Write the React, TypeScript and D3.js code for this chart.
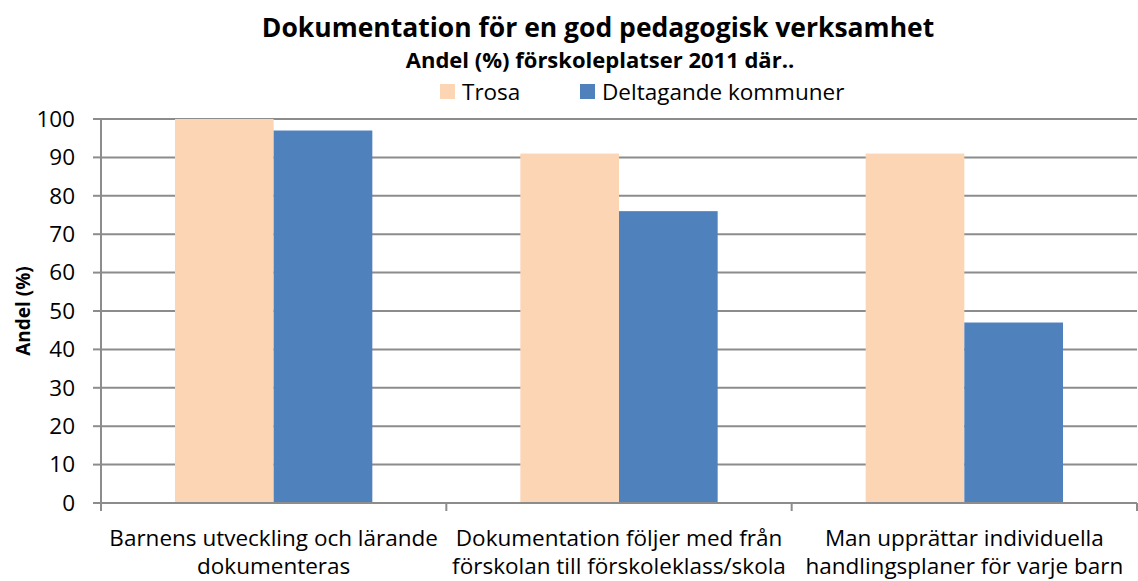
import { useRef, useEffect } from 'react'
import * as d3 from 'd3'

const categories = [
  ['Barnens utveckling och lärande', 'dokumenteras'],
  ['Dokumentation följer med från', 'förskolan till förskoleklass/skola'],
  ['Man upprättar individuella', 'handlingsplaner för varje barn'],
]
const seriesNames = ['Trosa', 'Deltagande kommuner']
const trosa = [100, 91, 91]
const deltagande = [97, 76, 47]
const yTicks = [0, 10, 20, 30, 40, 50, 60, 70, 80, 90, 100]
const colors = ['#FCD5B5', '#4F81BD']

const FONT = '"Open Sans", Lato, sans-serif'

const App = () => {
  const ref = useRef(null)

  useEffect(() => {
    const totalWidth = 1138,
      totalHeight = 581,
      margin = { left: 101, top: 119, right: 1, bottom: 78 },
      width = totalWidth - margin.left - margin.right,
      height = totalHeight - margin.top - margin.bottom

    const svg = d3.select(ref.current)
    svg.selectAll('*').remove()

    const x = d3.scaleBand<number>()
      .domain(categories.map((d, i) => i))
      .range([0, width])
      .paddingInner(0)
      .paddingOuter(0)

    // gap width 150% like the original
    const inner = d3.scaleBand<number>()
      .domain([0, 1])
      .range([0, x.bandwidth()])
      .paddingOuter(0.75)
      .paddingInner(0)

    const y = d3.scaleLinear().domain([0, 100]).range([height, 0])

    const plot = svg.append('g')
      .attr('transform', `translate(${margin.left}, ${margin.top})`)

    // GRIDLINES
    plot.append('g')
      .selectAll('line')
      .data(yTicks.filter(d => d > 0))
      .enter()
      .append('line')
        .attr('x1', 0)
        .attr('x2', width)
        .attr('y1', d => y(d))
        .attr('y2', d => y(d))
        .attr('stroke', '#8c8c8c')
        .attr('stroke-width', 2)

    // BARS
    const data = [trosa, deltagande]
    data.forEach((series, s) => {
      plot.append('g')
        .selectAll('rect')
        .data(series)
        .enter()
        .append('rect')
          .attr('x', (d, i) => x(i)! + inner(s)!)
          .attr('width', inner.bandwidth())
          .attr('y', d => y(d))
          .attr('height', d => height - y(d))
          .attr('fill', colors[s])
    })

    // Y AXIS
    const yAxis = plot.append('g')
    yAxis.append('line')
      .attr('x1', 0).attr('x2', 0)
      .attr('y1', 0).attr('y2', height + 8)
      .attr('stroke', '#8c8c8c').attr('stroke-width', 2)
    yAxis.selectAll('line.tick')
      .data(yTicks)
      .enter()
      .append('line')
        .attr('class', 'tick')
        .attr('x1', -8).attr('x2', 0)
        .attr('y1', d => y(d)).attr('y2', d => y(d))
        .attr('stroke', '#8c8c8c').attr('stroke-width', 2)
    yAxis.selectAll('text')
      .data(yTicks)
      .enter()
      .append('text')
        .attr('x', -26)
        .attr('y', d => y(d))
        .attr('dy', '0.35em')
        .attr('text-anchor', 'end')
        .attr('font-family', FONT)
        .attr('font-size', 22.5)
        .text(d => d)

    // X AXIS
    const xAxis = plot.append('g').attr('transform', `translate(0, ${height})`)
    xAxis.append('line')
      .attr('x1', 0).attr('x2', width)
      .attr('stroke', '#8c8c8c').attr('stroke-width', 2)
    xAxis.selectAll('line.tick')
      .data(d3.range(categories.length + 1))
      .enter()
      .append('line')
        .attr('class', 'tick')
        .attr('x1', d => d * x.step()).attr('x2', d => d * x.step())
        .attr('y1', 0).attr('y2', 8)
        .attr('stroke', '#8c8c8c').attr('stroke-width', 2)
    categories.forEach((lines, i) => {
      const t = xAxis.append('text')
        .attr('text-anchor', 'middle')
        .attr('font-family', FONT)
        .attr('font-size', 22.5)
      lines.forEach((l, j) => {
        t.append('tspan')
          .attr('x', x(i)! + x.bandwidth() / 2)
          .attr('y', 43 + j * 28)
          .text(l)
      })
    })

    // Y LABEL
    svg.append('text')
      .attr('transform', `translate(30, ${margin.top + height / 2}) rotate(-90)`)
      .attr('text-anchor', 'middle')
      .attr('font-family', FONT)
      .attr('font-weight', 'bold')
      .attr('font-size', 19)
      .text('Andel (%)')

    // TITLES
    svg.append('text')
      .attr('x', 598).attr('y', 37)
      .attr('text-anchor', 'middle')
      .attr('font-family', FONT)
      .attr('font-weight', 'bold')
      .attr('font-size', 26.5)
      .text('Dokumentation för en god pedagogisk verksamhet')
    svg.append('text')
      .attr('x', 600).attr('y', 68)
      .attr('text-anchor', 'middle')
      .attr('font-family', FONT)
      .attr('font-weight', 'bold')
      .attr('font-size', 22)
      .text('Andel (%) förskoleplatser 2011 där..')

    // LEGEND
    const legendX = [440, 580]
    seriesNames.forEach((name, i) => {
      const g = svg.append('g').attr('transform', `translate(${legendX[i]}, 84)`)
      g.append('rect')
        .attr('width', 15).attr('height', 15)
        .attr('fill', colors[i])
      g.append('text')
        .attr('x', 22).attr('y', 8)
        .attr('dy', '0.35em')
        .attr('font-family', FONT)
        .attr('font-size', 22.5)
        .text(name)
    })
  }, [])

  return <svg ref={ref} width={1138} height={581} style={{ position: 'absolute', left: 0, top: 0 }}></svg>
}

export default App
